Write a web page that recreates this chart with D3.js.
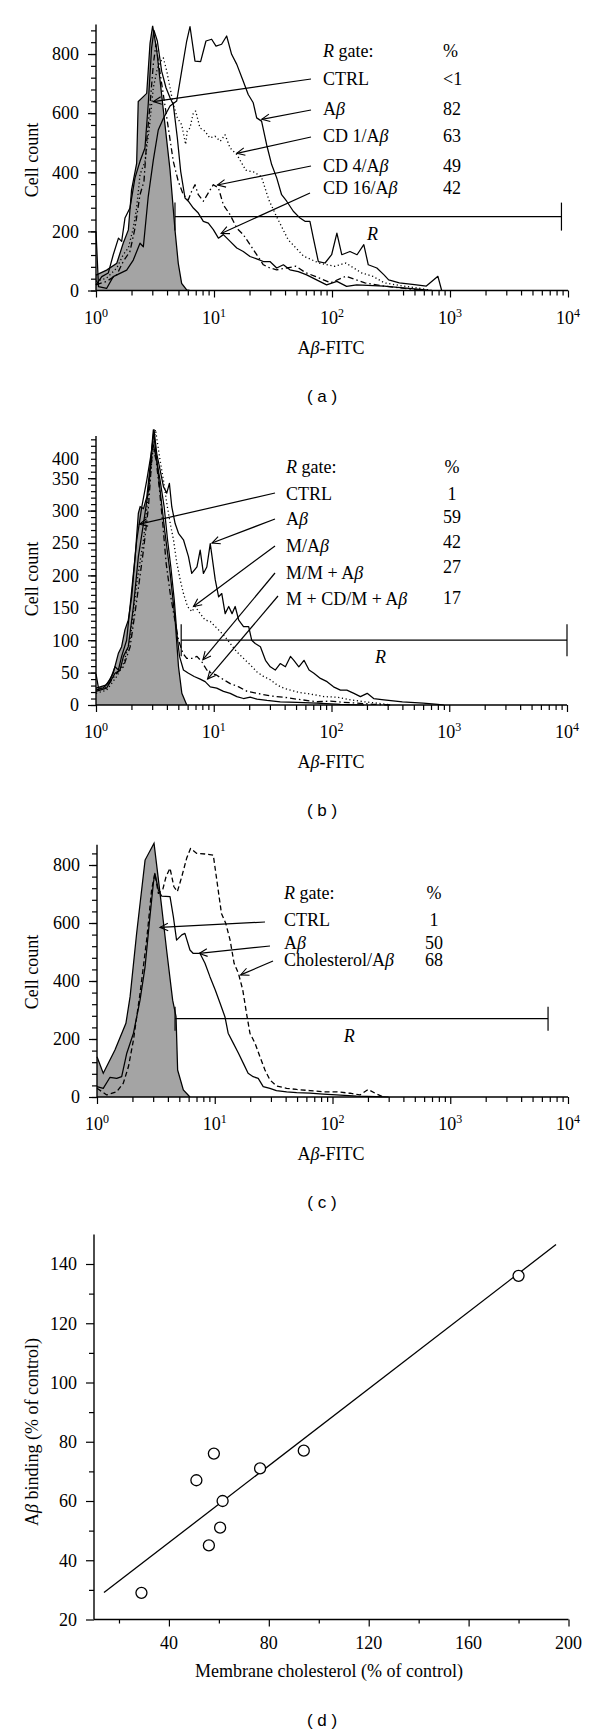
<!DOCTYPE html>
<html><head><meta charset="utf-8">
<script src="https://cdn.jsdelivr.net/npm/d3@7"></script>
<style>html,body{margin:0;padding:0;background:#fff;} svg{display:block;}</style>
</head><body><svg id="chart" width="600" height="1732"></svg>
<script>
// ---------------- DATA ----------------
// Panel (a): [fluorescence, cell count]
const aCTRL = [[1,52],[1.23,69],[1.5,92],[1.7,160],[1.88,205],[2.0,340],[2.21,430],[2.28,639],[2.52,656],[2.69,667],[2.87,836],[3.02,895],[3.27,814],[3.72,611],[4.24,408],[4.67,205],[4.98,92],[5.32,24],[5.87,2],[6.3,0]];
const aAb = [[1,200],[1.05,13],[1.23,7],[1.4,47],[1.82,69],[2.07,103],[2.36,160],[2.52,148],[2.77,317],[3.06,441],[3.37,543],[3.72,582],[4.24,624],[4.83,641],[5.32,742],[5.87,844],[6.26,893],[6.9,776],[7.7,774],[8.55,844],[9.55,850],[10.4,827],[11.6,833],[12.8,861],[14.1,799],[15.6,765],[17.7,708],[19.5,663],[21.5,635],[23,584],[25.3,573],[27.9,494],[30.8,426],[34,381],[37.4,324],[41.3,302],[47,268],[53.6,245],[59,234],[65,234],[69.5,177],[76.6,98],[87.3,93],[99.3,121],[110,194],[121,121],[142,132],[163,121],[186,155],[203,87],[240,76],[276,53],[302,36],[372,26],[500,20],[630,15],[790,48],[850,0]];
const aCD1 = [[1,31],[1.23,42],[1.5,76],[1.7,121],[1.88,144],[2.07,211],[2.21,279],[2.36,392],[2.6,437],[2.83,550],[3.06,686],[3.37,765],[3.72,787],[3.98,742],[4.24,686],[4.52,629],[4.89,584],[5.32,561],[5.75,494],[5.93,539],[6.26,550],[6.68,601],[7.0,607],[7.6,550],[8.4,539],[9.2,516],[10.2,522],[11.3,505],[12.4,527],[13.7,482],[15.6,460],[18.6,407],[22,400],[25.2,385],[29.2,306],[33.9,250],[42.5,172],[57.5,116],[77.6,93],[105,82],[131,93],[177,60],[222,48],[277,26],[400,15],[587,6],[700,0]];
const aCD4 = [[1,19],[1.23,31],[1.5,53],[1.7,98],[1.94,132],[2.14,211],[2.36,324],[2.55,369],[2.69,505],[2.87,629],[3.06,765],[3.22,833],[3.44,754],[3.72,663],[4.1,550],[4.52,437],[4.98,369],[5.5,324],[6.06,307],[6.47,336],[6.9,358],[7.36,324],[8.12,302],[8.95,330],[9.87,358],[10.9,347],[12,290],[13.7,256],[15.6,211],[17.7,189],[20.2,155],[23,121],[26.2,87],[29.8,76],[34,70],[49.4,82],[60,60],[72,48],[97,26],[131,48],[190,26],[277,15],[433,6],[587,0]];
const aCD16 = [[1,19],[1.12,47],[1.27,59],[1.4,121],[1.55,177],[1.65,166],[1.76,245],[1.94,279],[2.14,381],[2.36,437],[2.6,482],[2.77,629],[2.96,821],[3.1,880],[3.31,844],[3.6,742],[3.92,686],[4.24,652],[4.52,629],[4.89,516],[5.22,403],[5.68,313],[6.06,302],[6.68,279],[7.36,262],[8.12,234],[8.95,228],[9.87,206],[10.9,177],[12,189],[13.7,166],[15.6,144],[17.7,132],[20.2,115],[23,107],[26.2,98],[29.8,98],[34,76],[38.7,87],[44,70],[51.8,64],[61,53],[74,36],[90,19],[110,31],[133,14],[162,19],[277,15],[400,9],[590,3],[700,0]];
const aLabels = ["CTRL","Aβ","CD 1/Aβ","CD 4/Aβ","CD 16/Aβ"];
const aPercent = ["<1","82","63","49","42"];
const aArrowTips = [[3.06,639],[25.4,579],[15.6,464],[10.7,357],[11.5,193]];
const aGate = [4.67, 8800, 250];

// Panel (b)
const bCTRL = [[1,26],[1.23,31],[1.4,49],[1.55,80],[1.65,90],[1.76,116],[1.88,131],[2.01,167],[2.15,229],[2.29,296],[2.37,306],[2.53,303],[2.7,321],[2.88,368],[3.07,425],[3.28,378],[3.5,332],[3.86,265],[4.27,203],[4.7,131],[5.02,59],[5.36,18],[5.9,0]];
const bAb = [[1,48],[1.05,26],[1.15,26],[1.32,39],[1.45,59],[1.55,54],[1.65,75],[1.82,100],[2.01,177],[2.22,255],[2.45,306],[2.7,347],[2.98,394],[3.11,425],[3.28,388],[3.5,363],[3.74,337],[3.99,327],[4.2,342],[4.4,306],[4.7,280],[5.02,265],[5.53,255],[6.1,229],[6.5,203],[7.2,213],[7.67,239],[8.17,203],[8.73,213],[9.34,249],[10.3,193],[11,167],[11.7,172],[12.5,141],[13.4,152],[14.3,141],[15.2,152],[16.3,131],[17.9,121],[19.8,121],[21,100],[22.5,95],[24.9,90],[27.5,69],[30.2,59],[33.3,54],[36.7,64],[40.6,59],[44.8,75],[47.9,69],[52.8,59],[58.4,69],[64.5,54],[70.9,49],[80.5,41],[91.7,36],[104,28],[119,23],[135,23],[155,18],[176,13],[201,18],[228,10],[279,8],[400,5],[600,3],[800,1],[900,0]];
const bMAb = [[1,18],[1.23,23],[1.5,44],[1.71,64],[1.95,100],[2.22,188],[2.53,255],[2.79,327],[3.07,399],[3.2,425],[3.5,378],[3.74,347],[3.99,311],[4.27,280],[4.55,255],[4.86,219],[5.19,193],[5.53,172],[5.99,152],[6.52,144],[6.96,152],[7.67,141],[8.45,131],[9.34,129],[10.3,121],[11.4,113],[12.5,105],[13.8,95],[15.7,82],[17.9,72],[20.4,62],[23.3,51],[26.5,44],[30.2,39],[34.4,31],[39.3,26],[44.8,23],[54.4,19],[66,17],[86,13],[112,12],[145,8],[189,5],[243,3],[317,0]];
const bMM = [[1,23],[1.23,28],[1.5,49],[1.71,59],[1.95,90],[2.22,162],[2.53,239],[2.79,306],[3.03,400],[3.24,378],[3.46,332],[3.69,280],[3.94,219],[4.27,172],[4.62,136],[5.02,100],[5.46,80],[5.9,72],[6.52,72],[7.2,75],[7.9,67],[8.73,54],[9.6,49],[10.6,46],[12.1,39],[13.8,33],[16.3,28],[19.2,21],[23.3,18],[30.2,14],[39.3,12],[50.9,9],[75.3,5],[97.8,6],[127,4],[165,3],[228,1],[317,0]];
const bMCD = [[1,21],[1.23,26],[1.45,49],[1.6,54],[1.71,75],[1.88,90],[2.08,152],[2.29,229],[2.53,280],[2.79,332],[3.03,405],[3.24,383],[3.5,347],[3.79,306],[4.05,255],[4.32,213],[4.62,162],[4.86,111],[5.12,75],[5.53,54],[6.1,49],[6.82,44],[7.67,40],[8.45,36],[9.34,28],[10.6,26],[12.1,21],[13.8,18],[15.7,13],[17.9,10],[20.4,12],[23.3,9],[28.3,7],[36.7,5],[51,4],[75,3],[119,1],[189,0]];
const bLabels = ["CTRL","Aβ","M/Aβ","M/M + Aβ","M + CD/M + Aβ"];
const bPercent = ["1","59","42","27","17"];
const bArrowTips = [[2.34,279],[9.66,250],[6.73,152],[8.09,70],[8.86,40]];
const bGate = [5.29, 10000, 100];
const bYTickVals = [0,50,100,150,200,250,300,350,380];
const bYTickText = ["0","50","100","150","200","250","300","350","400"];

// Panel (c)
const cCTRL = [[1,139],[1.13,82],[1.42,162],[1.76,254],[1.91,346],[2.17,564],[2.56,817],[3.05,875],[3.3,760],[3.54,656],[3.9,507],[4.39,334],[4.69,277],[4.84,93],[5.41,24],[6.16,0]];
const cAb = [[1,36],[1.13,30],[1.29,68],[1.47,64],[1.62,70],[1.79,151],[2.04,220],[2.32,334],[2.56,449],[2.78,599],[3.01,737],[3.1,771],[3.32,714],[3.54,693],[4.17,691],[4.45,622],[4.74,541],[5.25,559],[5.58,564],[6.16,507],[6.57,495],[7.5,495],[8.26,461],[9.1,415],[10.1,369],[11.1,323],[12.2,277],[13,220],[14.4,185],[15.9,151],[17.5,116],[19.2,82],[21.2,70],[23.4,64],[25.8,36],[29.4,30],[33.4,22],[40.8,18],[49.6,15],[64.3,13],[83.4,10],[108,7],[160,3],[237,1],[300,0]];
const cChol = [[1,30],[1.21,7],[1.47,18],[1.67,47],[1.85,105],[2.04,197],[2.32,357],[2.64,541],[2.91,714],[3.1,771],[3.32,702],[3.61,714],[3.86,760],[4.17,789],[4.5,725],[4.81,708],[5.25,760],[5.77,823],[6.23,857],[7.04,840],[8.26,838],[9.72,834],[10.5,737],[11.4,633],[12.4,599],[13.5,541],[14.6,461],[15.9,426],[17.3,369],[18.6,289],[19.9,220],[22,185],[24.2,139],[26.7,93],[29.4,59],[33.4,38],[40.8,30],[49.6,26],[64.3,22],[83.4,18],[108,18],[141,13],[171,7],[201,26],[230,13],[270,0]];
const cLabels = ["CTRL","Aβ","Cholesterol/Aβ"];
const cPercent = ["1","50","68"];
const cArrowTips = [[3.43,585],[7.39,495],[16.6,421]];
const cGate = [4.6, 6770, 270];

// Panel (d)
const dCholesterol = [29, 51, 58, 61.5, 60.5, 56, 76.5, 94, 180];
const dBinding     = [29, 67, 76, 60, 51, 45, 71, 77, 136];
const dFitX = [14, 195];
const dFitSlope = 0.649, dFitIntercept = 20;
const dXTicks = [40, 80, 120, 160, 200];
const dXMinor = [20, 60, 100, 140, 180];
const dYTicks = [20, 40, 60, 80, 100, 120, 140];
const dYMinor = [30, 50, 70, 90, 110, 130];

const xDecades = [1, 10, 100, 1000, 10000];
const xDecadeExp = ["0","1","2","3","4"];

// ---------------- DRAWING ----------------
const serif = "'Liberation Serif','Times New Roman',serif";
const sans = "'Liberation Sans',Arial,sans-serif";
const svg = d3.select("#chart");
svg.append("rect").attr("width",600).attr("height",1732).attr("fill","#fff");
const defs = svg.append("defs");
defs.append("marker").attr("id","arr").attr("viewBox","-10 -6 12 12")
  .attr("refX",0).attr("refY",0).attr("markerWidth",12).attr("markerHeight",12)
  .attr("markerUnits","userSpaceOnUse").attr("orient","auto")
  .append("path").attr("d","M-8,-3.8L0,0L-8,3.8").attr("fill","none")
  .attr("stroke","#000").attr("stroke-width",1.1);

function rich(sel, str) {
  str.split(/(β)/).forEach(p => {
    if (!p) return;
    const t = sel.append("tspan").text(p);
    if (p === "β") t.attr("font-style","italic");
  });
}

function histPanel(p) {
  const x = d3.scaleLog().domain([1, 1e4]).range([p.left, p.right]);
  const y = d3.scaleLinear().domain([0, p.yTop]).range([p.y0, p.y0 - p.yTop * p.k]);
  const g = svg.append("g");
  const line = d3.line().x(d => x(d[0])).y(d => y(d[1]));
  g.append("path").datum(p.ctrl)
    .attr("d", d3.area().x(d => x(d[0])).y0(y(0)).y1(d => y(d[1])))
    .attr("fill", "#a4a4a4");
  g.append("path").datum(p.ctrl).attr("d", line).attr("fill","none")
    .attr("stroke","#000").attr("stroke-width",1.25);
  p.series.forEach(s => {
    g.append("path").datum(s.data).attr("d", line).attr("fill","none")
      .attr("stroke","#000").attr("stroke-width", s.dash ? 1.3 : 1.25)
      .attr("stroke-dasharray", s.dash || null).attr("stroke-linejoin","round");
  });
  // axes
  const xMinor = [];
  [1, 10, 100, 1000].forEach(dec => { for (let m = 2; m <= 9; m++) xMinor.push(m * dec); });
  const ax = g.append("g").attr("transform", `translate(0,${y(0)})`);
  ax.call(d3.axisBottom(x).tickValues(xMinor).tickSize(5).tickFormat("").tickSizeOuter(0))
    .call(a => a.select(".domain").remove());
  const ax2 = g.append("g").attr("transform", `translate(0,${y(0)})`);
  ax2.call(d3.axisBottom(x).tickValues(xDecades).tickSize(7).tickFormat("").tickSizeOuter(0))
    .call(a => a.select(".domain").remove());
  g.append("line").attr("x1", x(1)).attr("x2", x(1e4)).attr("y1", y(0)).attr("y2", y(0))
    .attr("stroke","#000").attr("stroke-width",1.4);
  xDecades.forEach((v, i) => {
    const t = g.append("text").attr("x", x(v)).attr("y", p.xLabY).attr("text-anchor","middle")
      .attr("font-family", serif).attr("font-size", 18).text("10");
    t.append("tspan").attr("dy", -7).attr("font-size", 12).text(xDecadeExp[i]);
  });
  const yMinor = d3.range(0, p.yTop + 0.1, p.minorStep);
  const ay = g.append("g").attr("transform", `translate(${p.left},0)`);
  ay.call(d3.axisLeft(y).tickValues(yMinor).tickSize(5).tickFormat("").tickSizeOuter(0))
    .call(a => a.select(".domain").remove());
  const ay2 = g.append("g").attr("transform", `translate(${p.left},0)`);
  ay2.call(d3.axisLeft(y).tickValues(p.yMajor).tickSize(8).tickFormat("").tickSizeOuter(0))
    .call(a => a.select(".domain").remove());
  g.append("line").attr("x1", p.left).attr("x2", p.left).attr("y1", y(0)).attr("y2", y(p.yTop))
    .attr("stroke","#000").attr("stroke-width",1.4);
  p.yLabVals.forEach((v, i) => {
    g.append("text").attr("x", p.left - 17).attr("y", y(v)).attr("dy","0.35em")
      .attr("text-anchor","end").attr("font-family", serif).attr("font-size", 18)
      .text(p.yLabText[i]);
  });
  svg.selectAll(".tick line").attr("stroke","#000").attr("stroke-width",1.2);
  // axis titles & caption
  g.append("text").attr("transform", `translate(32,${p.yTitleY}) rotate(-90)`)
    .attr("text-anchor","middle").attr("dy","0.35em").attr("font-family", serif)
    .attr("font-size", 18).text("Cell count");
  const xt = g.append("text").attr("x", 331).attr("y", p.xTitleY).attr("text-anchor","middle")
    .attr("font-family", serif).attr("font-size", 18);
  rich(xt, "Aβ-FITC");
  g.append("text").attr("x", 322).attr("y", p.capY).attr("text-anchor","middle")
    .attr("font-family", sans).attr("font-size", 17).attr("xml:space","preserve").text(p.cap);
  // R gate
  const gy = y(p.gate[2]);
  g.append("line").attr("x1", x(p.gate[0])).attr("x2", x(p.gate[1])).attr("y1", gy).attr("y2", gy)
    .attr("stroke","#000").attr("stroke-width",1.2);
  [p.gate[0], p.gate[1]].forEach(v => g.append("line").attr("x1", x(v)).attr("x2", x(v))
    .attr("y1", gy - p.gateH).attr("y2", gy + p.gateH).attr("stroke","#000").attr("stroke-width",1.2));
  g.append("text").attr("x", x(p.rLabX)).attr("y", gy + 23).attr("text-anchor","middle")
    .attr("font-family", serif).attr("font-style","italic").attr("font-size", 18).text("R");
  // legend
  const hdr = g.append("text").attr("x", p.textX).attr("y", p.hdrY).attr("font-family", serif).attr("font-size", 18);
  hdr.append("tspan").attr("font-style","italic").text("R");
  hdr.append("tspan").text(" gate:");
  g.append("text").attr("x", p.pctX).attr("y", p.hdrY).attr("text-anchor", p.pctAnchor)
    .attr("font-family", serif).attr("font-size", 18).text("%");
  p.labels.forEach((lab, i) => {
    const t = g.append("text").attr("x", p.textX).attr("y", p.labY[i])
      .attr("font-family", serif).attr("font-size", 18);
    rich(t, lab);
    g.append("text").attr("x", p.pctX).attr("y", p.valY[i]).attr("text-anchor", p.pctAnchor)
      .attr("font-family", serif).attr("font-size", 18).text(p.pct[i]);
    const tip = p.tips[i];
    g.append("line").attr("x1", p.tails[i][0]).attr("y1", p.tails[i][1])
      .attr("x2", x(tip[0])).attr("y2", y(tip[1]))
      .attr("stroke","#000").attr("stroke-width",1.2).attr("marker-end","url(#arr)");
  });
}

const DOT = "1.2,2.6", DASHDOT = "6,3,1.5,3", DASH = "5,3";

histPanel({
  left: 96, right: 568, y0: 290.5, k: 0.2956, yTop: 900, minorStep: 40,
  yMajor: [0,200,400,600,800], yLabVals: [0,200,400,600,800], yLabText: ["0","200","400","600","800"],
  ctrl: aCTRL,
  series: [{data: aAb}, {data: aCD16}, {data: aCD1, dash: DOT}, {data: aCD4, dash: DASHDOT}],
  xLabY: 324, xTitleY: 354, capY: 402, cap: "( a )", yTitleY: 160,
  gate: aGate, gateH: 14, rLabX: 220,
  textX: 323, hdrY: 57.3, pctX: 443, pctAnchor: "start",
  labels: aLabels, pct: aPercent, labY: [85,115,141.7,171.7,194], valY: [85,115,141.7,171.7,194],
  tips: aArrowTips, tails: [[311,79],[311,110],[311,137],[311,166],[310,193]]
});

histPanel({
  left: 96, right: 567, y0: 705, k: 0.648, yTop: 415, minorStep: 10,
  yMajor: [0,50,100,150,200,250,300,350], yLabVals: bYTickVals, yLabText: bYTickText,
  ctrl: bCTRL,
  series: [{data: bAb}, {data: bMCD}, {data: bMAb, dash: DOT}, {data: bMM, dash: DASHDOT}],
  xLabY: 737.5, xTitleY: 767.5, capY: 815.5, cap: "( b )", yTitleY: 579,
  gate: bGate, gateH: 16, rLabX: 261,
  textX: 286, hdrY: 473.3, pctX: 452, pctAnchor: "middle",
  labels: bLabels, pct: bPercent, labY: [500,525,551.7,579.3,605], valY: [500,523,548,573,604],
  tips: bArrowTips, tails: [[275,493],[275,519],[275,546],[275,573],[278,596]]
});

histPanel({
  left: 97, right: 568, y0: 1097, k: 0.29, yTop: 870, minorStep: 40,
  yMajor: [0,200,400,600,800], yLabVals: [0,200,400,600,800], yLabText: ["0","200","400","600","800"],
  ctrl: cCTRL,
  series: [{data: cAb}, {data: cChol, dash: DASH}],
  xLabY: 1130, xTitleY: 1159.5, capY: 1207.5, cap: "( c )", yTitleY: 972,
  gate: cGate, gateH: 12, rLabX: 139,
  textX: 284, hdrY: 899, pctX: 434, pctAnchor: "middle",
  labels: cLabels, pct: cPercent, labY: [926,949,966], valY: [926,949,966],
  tips: cArrowTips, tails: [[265,922],[270,946],[273,961]]
});

// Panel (d)
(function () {
  const x = d3.scaleLinear().domain([10, 200]).range([94, 568.5]);
  const y = d3.scaleLinear().domain([20, 150]).range([1619.5, 1619.5 - 130 * 2.9625]);
  const g = svg.append("g");
  g.append("g").attr("transform", `translate(0,${y(20)})`)
    .call(d3.axisBottom(x).tickValues(dXTicks).tickSize(7).tickFormat("").tickSizeOuter(0))
    .call(a => a.select(".domain").remove());
  g.append("g").attr("transform", `translate(0,${y(20)})`)
    .call(d3.axisBottom(x).tickValues(dXMinor).tickSize(4).tickFormat("").tickSizeOuter(0))
    .call(a => a.select(".domain").remove());
  g.append("g").attr("transform", `translate(${x(10)},0)`)
    .call(d3.axisLeft(y).tickValues(dYTicks).tickSize(8).tickFormat("").tickSizeOuter(0))
    .call(a => a.select(".domain").remove());
  g.append("g").attr("transform", `translate(${x(10)},0)`)
    .call(d3.axisLeft(y).tickValues(dYMinor).tickSize(5).tickFormat("").tickSizeOuter(0))
    .call(a => a.select(".domain").remove());
  svg.selectAll(".tick line").attr("stroke","#000").attr("stroke-width",1.2);
  g.append("line").attr("x1", x(10)).attr("x2", x(200)).attr("y1", y(20)).attr("y2", y(20))
    .attr("stroke","#000").attr("stroke-width",1.4);
  g.append("line").attr("x1", x(10)).attr("x2", x(10)).attr("y1", y(20)).attr("y2", y(150))
    .attr("stroke","#000").attr("stroke-width",1.4);
  dXTicks.forEach(v => g.append("text").attr("x", x(v)).attr("y", 1649).attr("text-anchor","middle")
    .attr("font-family", serif).attr("font-size", 18).text(v));
  dYTicks.forEach(v => g.append("text").attr("x", x(10) - 17).attr("y", y(v)).attr("dy","0.35em")
    .attr("text-anchor","end").attr("font-family", serif).attr("font-size", 18).text(v));
  g.append("line").attr("x1", x(dFitX[0])).attr("y1", y(dFitSlope * dFitX[0] + dFitIntercept))
    .attr("x2", x(dFitX[1])).attr("y2", y(dFitSlope * dFitX[1] + dFitIntercept))
    .attr("stroke","#000").attr("stroke-width",1.3);
  g.selectAll("circle.pt").data(dCholesterol).enter().append("circle")
    .attr("cx", d => x(d)).attr("cy", (d, i) => y(dBinding[i])).attr("r", 5.5)
    .attr("fill","#fff").attr("stroke","#000").attr("stroke-width",1.3);
  g.append("text").attr("x", 329).attr("y", 1677).attr("text-anchor","middle")
    .attr("font-family", serif).attr("font-size", 18).text("Membrane cholesterol (% of control)");
  const yt = g.append("text").attr("transform", "translate(32,1432) rotate(-90)")
    .attr("text-anchor","middle").attr("dy","0.35em").attr("font-family", serif).attr("font-size", 18);
  rich(yt, "Aβ binding (% of control)");
  g.append("text").attr("x", 322).attr("y", 1726).attr("text-anchor","middle")
    .attr("font-family", sans).attr("font-size", 17).attr("xml:space","preserve").text("( d )");
})();
</script></body></html>
